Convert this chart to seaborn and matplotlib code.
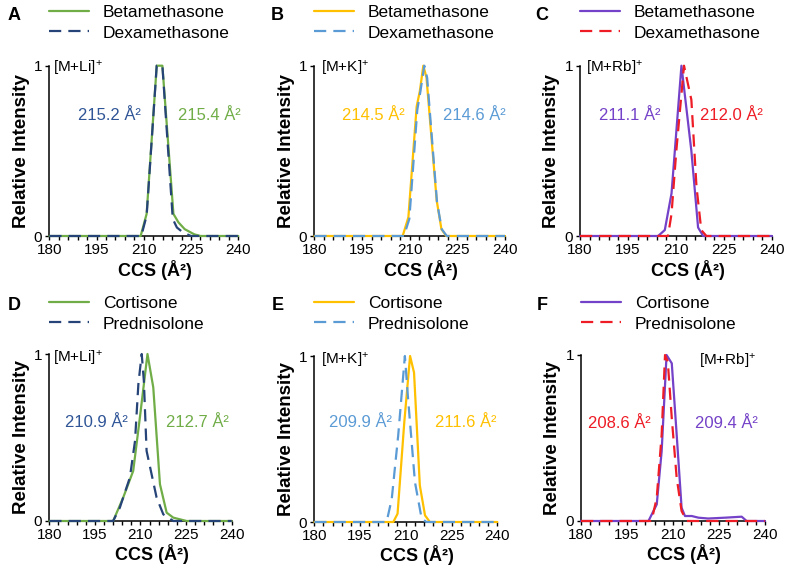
import matplotlib
matplotlib.use("Agg")
import matplotlib.pyplot as plt
import pandas as pd
import seaborn as sns

# --- datos (CCS en Å², intensidad relativa) ---
a_beta_x = [180, 209.0, 210.9, 214.1, 215.9, 219.4, 221.0, 223.0, 226.0, 228.0, 240]
a_beta_y = [0, 0, 0.13, 1.0, 1.0, 0.13, 0.08, 0.04, 0.01, 0, 0]
a_dexa_x = [180, 209.2, 210.9, 214.1, 215.9, 219.2, 220.5, 222.5, 225.0, 240]
a_dexa_y = [0, 0, 0.12, 1.0, 1.0, 0.10, 0.05, 0.02, 0, 0]

b_beta_x = [180, 207.8, 209.6, 212.2, 213.2, 214.3, 215.3, 218.5, 220.0, 221.5, 240]
b_beta_y = [0, 0, 0.11, 0.76, 0.85, 1.0, 0.93, 0.21, 0.04, 0, 0]
b_dexa_x = [180, 208.2, 209.9, 212.4, 213.4, 214.6, 215.5, 218.6, 220.1, 221.7, 240]
b_dexa_y = [0, 0, 0.10, 0.74, 0.85, 1.0, 0.93, 0.20, 0.04, 0, 0]

c_beta_x = [180, 204.4, 206.5, 208.6, 211.7, 214.8, 216.9, 218.5, 240]
c_beta_y = [0, 0, 0.035, 0.25, 1.0, 0.5, 0.05, 0, 0]
c_dexa_x = [180, 207.5, 208.6, 210.1, 212.5, 214.8, 216.4, 217.9, 219.5, 240]
c_dexa_y = [0, 0, 0.13, 0.5, 1.0, 0.8, 0.29, 0.035, 0, 0]

d_cort_x = [180, 201.0, 204.3, 207.6, 209.8, 212.3, 214.2, 216.4, 218.6, 220.8, 225.2, 240]
d_cort_y = [0, 0, 0.14, 0.30, 0.62, 1.0, 0.80, 0.22, 0.05, 0.02, 0, 0]
d_pred_x = [180, 201.0, 203.2, 206.5, 208.2, 209.3, 210.4, 211.1, 212.0, 215.3, 217.5, 220.8, 240]
d_pred_y = [0, 0, 0.08, 0.26, 0.48, 0.82, 1.0, 0.84, 0.42, 0.14, 0.04, 0, 0]

e_cort_x = [180, 205.9, 207.3, 209.5, 211.4, 212.7, 214.6, 216.3, 217.9, 240]
e_cort_y = [0, 0, 0.05, 0.60, 1.0, 0.90, 0.22, 0.04, 0, 0]
e_pred_x = [180, 203.7, 205.4, 207.5, 209.7, 210.8, 213.0, 215.2, 216.8, 240]
e_pred_y = [0, 0, 0.14, 0.52, 1.0, 0.73, 0.24, 0.02, 0, 0]

f_cort_x = [180, 202.0, 204.7, 206.3, 207.9, 209.6, 211.2, 212.8, 213.9, 216.1, 218.3, 221.5, 227.0, 232.4, 234.0, 240]
f_cort_y = [0, 0, 0.10, 0.42, 1.0, 0.95, 0.52, 0.08, 0.03, 0.03, 0.02, 0.015, 0.02, 0.026, 0, 0]
f_pred_x = [180, 203.0, 204.7, 206.3, 207.4, 208.3, 209.6, 211.2, 212.8, 214.5, 240]
f_pred_y = [0, 0, 0.14, 0.52, 1.0, 0.96, 0.62, 0.26, 0.06, 0, 0]

# valores CCS anotados (izquierda, derecha)
a_ccs = ["215.2 Å²", "215.4 Å²"]
b_ccs = ["214.5 Å²", "214.6 Å²"]
c_ccs = ["211.1 Å²", "212.0 Å²"]
d_ccs = ["210.9 Å²", "212.7 Å²"]
e_ccs = ["209.9 Å²", "211.6 Å²"]
f_ccs = ["208.6 Å²", "209.4 Å²"]

GREEN = "#70AD47"
DBLUE = "#264478"
DBLUE_T = "#2F5597"
YELLOW = "#FFC000"
LBLUE = "#5B9BD5"
PURPLE = "#7442C8"
RED = "#EE1C25"

W, H = 787, 574

sns.set_style("ticks")
plt.rcParams["font.family"] = ["Liberation Sans", "DejaVu Sans"]
plt.rcParams["mathtext.fontset"] = "custom"
plt.rcParams["mathtext.rm"] = "Liberation Sans"
plt.rcParams["mathtext.it"] = "Liberation Sans:italic"
plt.rcParams["mathtext.bf"] = "Liberation Sans:bold"
for k in ("text.color", "axes.labelcolor", "xtick.color", "ytick.color"):
    plt.rcParams[k] = "black"

fig = plt.figure(figsize=(W / 100, H / 100), dpi=100)


def px_rect(left, right, top, bottom):
    return [left / W, 1 - bottom / H, (right - left) / W, (bottom - top) / H]


panels = [
    dict(letter="A", rect=px_rect(49.3, 238.3, 65.7, 236), pos=(14, 15),
         names=("Betamethasone", "Dexamethasone"), colors=(GREEN, DBLUE),
         data=(a_beta_x, a_beta_y, a_dexa_x, a_dexa_y), ccs=a_ccs,
         ccs_col=(DBLUE_T, GREEN), ccs_pos=(0.32, 0.845, 0.71),
         ion="[M+Li]$^{+}$", ion_pos=(0.02, 0.985)),
    dict(letter="B", rect=px_rect(314.3, 505, 65.7, 236), pos=(277.5, 15),
         names=("Betamethasone", "Dexamethasone"), colors=(YELLOW, LBLUE),
         data=(b_beta_x, b_beta_y, b_dexa_x, b_dexa_y), ccs=b_ccs,
         ccs_col=(YELLOW, LBLUE), ccs_pos=(0.31, 0.84, 0.71),
         ion="[M+K]$^{+}$", ion_pos=(0.035, 0.985)),
    dict(letter="C", rect=px_rect(580, 772, 65.7, 236), pos=(542, 15),
         names=("Betamethasone", "Dexamethasone"), colors=(PURPLE, RED),
         data=(c_beta_x, c_beta_y, c_dexa_x, c_dexa_y), ccs=c_ccs,
         ccs_col=(PURPLE, RED), ccs_pos=(0.26, 0.79, 0.71),
         ion="[M+Rb]$^{+}$", ion_pos=(0.03, 0.985)),
    dict(letter="D", rect=px_rect(49.3, 231.7, 354, 521), pos=(14, 306),
         names=("Cortisone", "Prednisolone"), colors=(GREEN, DBLUE),
         data=(d_cort_x, d_cort_y, d_pred_x, d_pred_y), ccs=d_ccs,
         ccs_col=(DBLUE_T, GREEN), ccs_pos=(0.26, 0.81, 0.59),
         ion="[M+Li]$^{+}$", ion_pos=(0.02, 0.975)),
    dict(letter="E", rect=px_rect(314.3, 497.3, 356, 522), pos=(277.5, 306),
         names=("Cortisone", "Prednisolone"), colors=(YELLOW, LBLUE),
         data=(e_cort_x, e_cort_y, e_pred_x, e_pred_y), ccs=e_ccs,
         ccs_col=(LBLUE, YELLOW), ccs_pos=(0.25, 0.83, 0.60),
         ion="[M+K]$^{+}$", ion_pos=(0.035, 0.975)),
    dict(letter="F", rect=px_rect(581, 765, 355, 521), pos=(542, 306),
         names=("Cortisone", "Prednisolone"), colors=(PURPLE, RED),
         data=(f_cort_x, f_cort_y, f_pred_x, f_pred_y), ccs=f_ccs,
         ccs_col=(RED, PURPLE), ccs_pos=(0.21, 0.79, 0.59),
         ion="[M+Rb]$^{+}$", ion_pos=(0.64, 0.96)),
]

for p in panels:
    ax = fig.add_axes(p["rect"])
    x1, y1, x2, y2 = p["data"]
    n1, n2 = p["names"]
    df = pd.concat([
        pd.DataFrame({"ccs": x1, "intensity": y1, "compound": n1}),
        pd.DataFrame({"ccs": x2, "intensity": y2, "compound": n2}),
    ])
    sns.lineplot(data=df, x="ccs", y="intensity", hue="compound", style="compound",
                 hue_order=[n1, n2], style_order=[n1, n2],
                 palette={n1: p["colors"][0], n2: p["colors"][1]},
                 dashes={n1: "", n2: (5.5, 3.2)}, estimator=None,
                 linewidth=1.6, clip_on=False, zorder=3, legend=False, ax=ax)

    ax.set_xlim(180, 240)
    ax.set_ylim(0, 1)
    ax.set_xticks([180, 195, 210, 225, 240])
    ax.set_xticks(range(180, 241, 3), minor=True)
    ax.set_yticks([0, 1])
    ax.tick_params(axis="both", which="both", direction="out", length=3,
                   width=1, color="black", labelsize=11, pad=2)
    sns.despine(ax=ax)
    for s in ("left", "bottom"):
        ax.spines[s].set_linewidth(1.1)
        ax.spines[s].set_color("black")

    ax.set_xlabel("CCS (Å²)", fontsize=13, fontweight="bold")
    ax.set_ylabel("Relative Intensity", fontsize=13.5, fontweight="bold", labelpad=3)
    ax.xaxis.set_label_coords(0.56, -0.14)

    lx, rx, ty = p["ccs_pos"]
    ax.text(lx, ty, p["ccs"][0], color=p["ccs_col"][0], fontsize=12,
            ha="center", va="center", transform=ax.transAxes)
    ax.text(rx, ty, p["ccs"][1], color=p["ccs_col"][1], fontsize=12,
            ha="center", va="center", transform=ax.transAxes, clip_on=False)
    ax.text(p["ion_pos"][0], p["ion_pos"][1], p["ion"], fontsize=11,
            ha="left", va="center", transform=ax.transAxes)

    lx_px = p["rect"][0] * W
    top_px = p["pos"][1] - 10
    ax.legend(handles=ax.lines[:2], labels=[n1, n2], loc="upper left",
              bbox_to_anchor=(lx_px / W, 1 - top_px / H), bbox_transform=fig.transFigure,
              frameon=False, fontsize=12.5, handlelength=2.3, handletextpad=0.8,
              labelspacing=0.3, borderpad=0, borderaxespad=0)

    fig.text(p["pos"][0] / W, 1 - p["pos"][1] / H, p["letter"], fontsize=13,
             fontweight="bold", ha="center", va="center")

fig.savefig("out.png", dpi=100)
